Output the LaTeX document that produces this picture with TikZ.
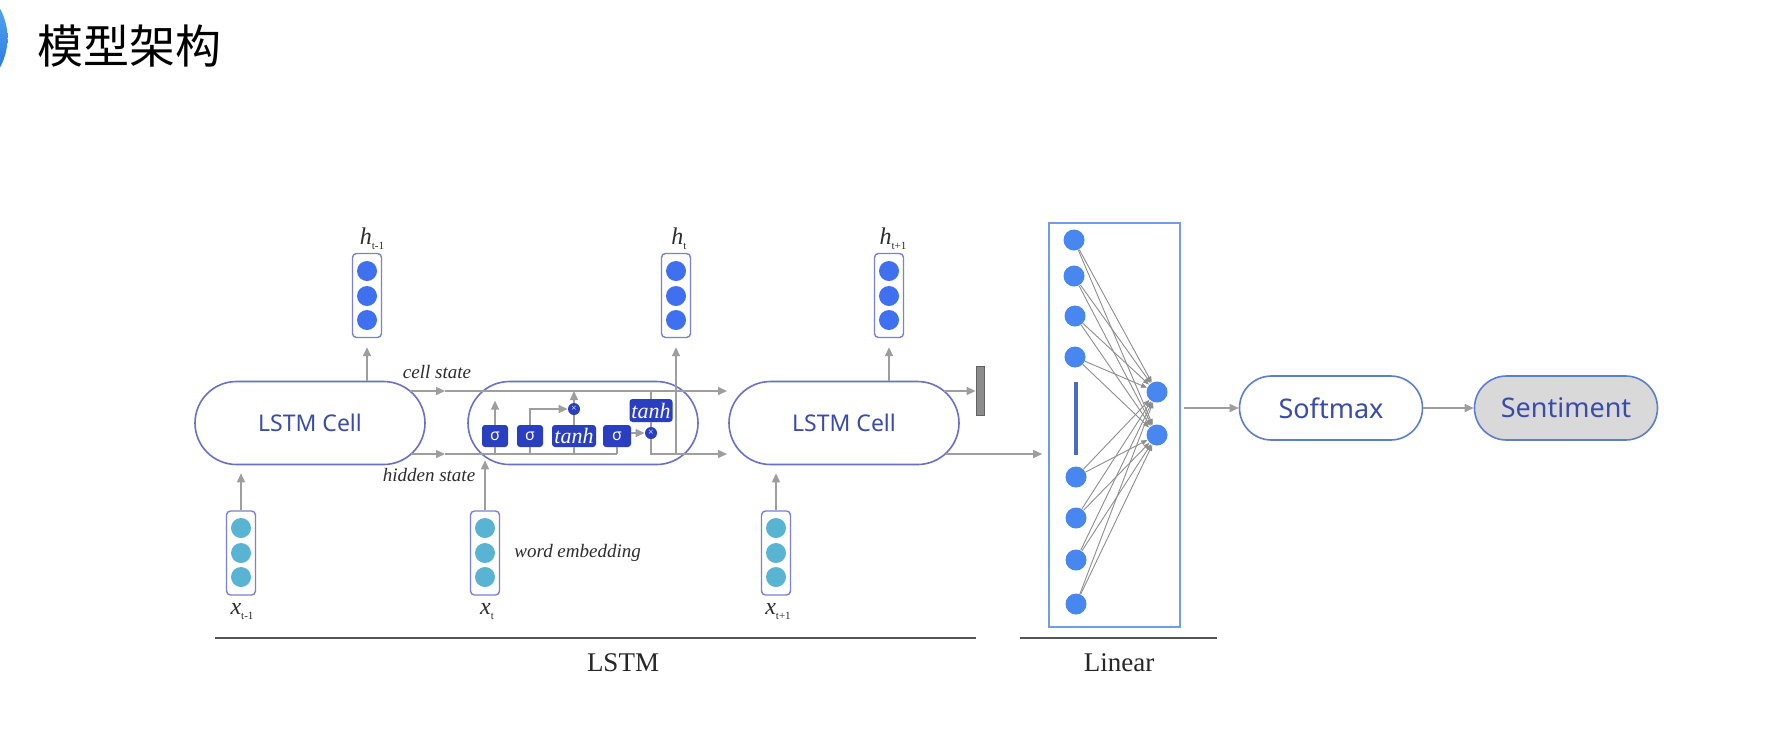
\documentclass[tikz,border=0pt]{standalone}
\usepackage{fontspec}
\setmainfont{Liberation Serif}
\setsansfont{Noto Sans}
\newfontfamily\cjk{Noto Sans CJK SC}
\usetikzlibrary{arrows.meta,calc}
\definecolor{cellline}{RGB}{104,112,204}
\definecolor{textblue}{RGB}{58,76,170}
\definecolor{hblue}{RGB}{62,112,240}
\definecolor{xteal}{RGB}{88,180,210}
\definecolor{vecline}{RGB}{122,128,214}
\definecolor{gateblue}{RGB}{42,62,192}
\definecolor{conngray}{RGB}{158,158,158}
\definecolor{linblue}{RGB}{112,156,232}
\definecolor{lindot}{RGB}{72,134,240}
\definecolor{linbar}{RGB}{74,108,190}
\definecolor{pillline}{RGB}{92,126,204}
\definecolor{sentgray}{RGB}{217,217,217}
\definecolor{bargray}{RGB}{140,140,140}
\definecolor{ulgray}{RGB}{85,85,85}
\definecolor{labgray}{RGB}{45,45,45}
\begin{document}
\begin{tikzpicture}[x=0.5pt,y=-0.5pt,
  conn/.style={draw=conngray, line width=0.75pt},
  arr/.style={conn, -{Triangle[length=4.5pt,width=4pt]}},
  fan/.style={draw=conngray!90!black, line width=0.45pt, -{Triangle[length=3pt,width=2.4pt]}},
  cell/.style={draw=cellline, line width=0.8pt, rounded corners=20.75pt, minimum width=115pt, minimum height=41.5pt, inner sep=0pt, text=textblue, font=\sffamily\fontsize{11.5}{12}\selectfont},
  vecbox/.style={draw=vecline, line width=0.7pt, rounded corners=2pt, minimum width=14.5pt, minimum height=42pt, inner sep=0pt},
  hdot/.style={circle, fill=hblue, minimum size=10pt, inner sep=0pt},
  xdot/.style={circle, fill=xteal, minimum size=10pt, inner sep=0pt},
  gate/.style={fill=gateblue, text=white, rounded corners=1.5pt, inner sep=0pt, minimum height=11pt},
  sig/.style={gate, minimum width=13pt, font=\sffamily\fontsize{8}{8}\selectfont},
  tnh/.style={gate, minimum width=22pt, font=\itshape\fontsize{11}{11}\selectfont},
  mult/.style={circle, fill=gateblue, minimum size=6pt, inner sep=0pt, text=white, font=\fontsize{5}{5}\selectfont},
  ilabel/.style={font=\itshape\fontsize{9.5}{10}\selectfont, text=labgray, inner sep=0pt},
  vlabel/.style={text=labgray, inner sep=0pt},
  pill/.style={draw=pillline, line width=0.8pt, rounded corners=16pt, minimum width=91.5pt, minimum height=32pt, inner sep=0pt, text=textblue, font=\sffamily\fontsize{13.5}{14}\selectfont},
  uline/.style={draw=ulgray, line width=1pt},
  section/.style={font=\fontsize{13.5}{14}\selectfont, text=black!85, inner sep=0pt}
]
\useasboundingbox (0,0) rectangle (1767,751);
\fill[white] (0,0) rectangle (1767,751);

% title
\shade[top color={rgb,255:red,96;green,180;blue,246}, bottom color={rgb,255:red,28;green,108;blue,216}] (-54,38) circle [radius=30.75pt];
\node[font=\cjk\fontsize{23}{23}\selectfont, anchor=base west, inner sep=0pt] (title) at (37,63) {模型架构};

% LSTM cells
\node[cell] (c1) at (310,423) {LSTM Cell};
\node[cell] (c2) at (583,423) {};
\node[cell] (c3) at (844,423) {LSTM Cell};

% output vectors h
\foreach \k/\xx in {1/367,2/676,3/889}{
  \node[vecbox] (hbox\k) at (\xx,295.5) {};
  \node[hdot] (h\k a) at (\xx,271) {};
  \node[hdot] (h\k b) at (\xx,296) {};
  \node[hdot] (h\k c) at (\xx,320) {};
}
\node[vlabel, anchor=base] (hl1) at (372,244) {\fontsize{12}{12}\selectfont\itshape h\raisebox{-2.5pt}{\upshape\fontsize{5.5}{5.5}\selectfont t-1}};
\node[vlabel, anchor=base] (hl2) at (679,244) {\fontsize{12}{12}\selectfont\itshape h\raisebox{-2.5pt}{\upshape\fontsize{5.5}{5.5}\selectfont t}};
\node[vlabel, anchor=base] (hl3) at (893,244) {\fontsize{12}{12}\selectfont\itshape h\raisebox{-2.5pt}{\upshape\fontsize{5.5}{5.5}\selectfont t+1}};

% input vectors x
\foreach \k/\xx in {1/241,2/485,3/776}{
  \node[vecbox] (xbox\k) at (\xx,553) {};
  \node[xdot] (x\k a) at (\xx,528) {};
  \node[xdot] (x\k b) at (\xx,553) {};
  \node[xdot] (x\k c) at (\xx,577) {};
}
\node[vlabel, anchor=base] (xl1) at (242,614) {\fontsize{12}{12}\selectfont\itshape x\raisebox{-2.5pt}{\upshape\fontsize{5.5}{5.5}\selectfont t-1}};
\node[vlabel, anchor=base] (xl2) at (487,614) {\fontsize{12}{12}\selectfont\itshape x\raisebox{-2.5pt}{\upshape\fontsize{5.5}{5.5}\selectfont t}};
\node[vlabel, anchor=base] (xl3) at (778,614) {\fontsize{12}{12}\selectfont\itshape x\raisebox{-2.5pt}{\upshape\fontsize{5.5}{5.5}\selectfont t+1}};

% labels
\node[ilabel] (cslab) at (437,372) {cell state};
\node[ilabel] (hslab) at (429,475) {hidden state};
\node[ilabel, anchor=west] (welab) at (514,553) {word embedding};

% state lines
\coordinate (csL) at (410,391);
\coordinate (csA) at (445,391);
\coordinate (csB) at (727,391);
\coordinate (hsL) at (411,454);
\coordinate (hsA) at (445,454);
\coordinate (hsB) at (727,454);
\coordinate (csR) at (944,391);
\coordinate (hsR) at (946,454);
\draw[arr] (csL) -- (csA);
\draw[arr] (csA) -- (csB);
\draw[arr] (hsL) -- (hsA);
\draw[conn] (hsA) -- (617,454);

% gates inside middle cell
\node[sig] (g1) at (495,436) {σ};
\node[sig] (g2) at (530,436) {σ};
\node[tnh] (g3) at (574,436) {tanh};
\node[sig, minimum width=14pt] (g4) at (617,436) {σ};
\node[tnh, minimum height=11.5pt, minimum width=21.5pt] (g5) at (651,410.5) {tanh};
\node[mult] (m1) at (574,409) {×};
\node[mult] (m2) at (651,433) {×};
\foreach \g in {g1,g2,g3,g4} \draw[conn] (\g.south) -- (\g.south |- hsA);
\draw[arr] (g1.north) -- ++(0,-24);
\draw[arr] (g2.north) |- (m1.west);
\draw[conn] (g3.north) -- (m1.south);
\draw[arr] (m1.north) -- (m1.north |- csA);
\draw[arr] (g4.east |- m2) -- (m2.west);
\draw[conn] (g5.north |- csA) -- (g5.north);
\draw[conn] (g5.south) -- (m2.north);
\draw[arr] (m2.south) |- (hsB);
\draw[arr, shorten >=4.5pt] (hbox2.south |- hsA) -- (hbox2.south);

% vertical arrows
\draw[arr, shorten >=4.5pt] (c1.north -| hbox1) -- (hbox1.south);
\draw[arr, shorten >=4.5pt] (c3.north -| hbox3) -- (hbox3.south);
\draw[arr, shorten >=4pt] (xbox1.north) -- (xbox1.north |- c1.south);
\draw[arr] (xbox2.north) -- ++(0,-50);
\draw[arr, shorten >=4pt] (xbox3.north) -- (xbox3.north |- c3.south);

% right cell exits
\node[fill=bargray, draw=bargray!70!black, line width=0.4pt, minimum width=4pt, minimum height=24.5pt, inner sep=0pt] (bar) at (980,390.5) {};
\draw[arr] (csR) -- (bar.west |- csR);

% Linear layer
\node[draw=linblue, line width=0.8pt, minimum width=65.5pt, minimum height=202pt, inner sep=0pt] (lin) at (1114.5,425) {};
\draw[arr, shorten >=3pt] (hsR) -- (lin.west |- hsR);
\foreach \i/\xx/\yy in {1/1074/240,2/1074/276,3/1075/316,4/1075/357,5/1076/477,6/1076/518,7/1076/560,8/1076/604}
  \node[circle, fill=lindot, minimum size=10.5pt, inner sep=0pt] (in\i) at (\xx,\yy) {};
\node[circle, fill=lindot, minimum size=10.5pt, inner sep=0pt] (out1) at (1157,392) {};
\node[circle, fill=lindot, minimum size=10.5pt, inner sep=0pt] (out2) at (1157,435) {};
\draw[draw=linbar, line width=1.6pt] (1076,382) -- (1076,455);
\foreach \i in {1,...,8}{
  \draw[fan] (in\i) -- (out1);
  \draw[fan] (in\i) -- (out2);
}

% Softmax & Sentiment
\node[pill] (sm) at (1331,408) {Softmax};
\node[pill, fill=sentgray] (sent) at (1566,408) {Sentiment};
\draw[arr, shorten <=1.5pt] (lin.east |- sm.west) -- (sm.west);
\draw[arr] (sm.east) -- (sent.west);

% section underlines
\coordinate (u1a) at (215,638);
\coordinate (u1b) at (976,638);
\coordinate (u2a) at (1020,638);
\coordinate (u2b) at (1217,638);
\draw[uline] (u1a) -- (u1b);
\draw[uline] (u2a) -- (u2b);
\node[section] (lstmlab) at (623,663) {LSTM};
\node[section] (linlab) at (1119,663) {Linear};
\end{tikzpicture}
\end{document}
